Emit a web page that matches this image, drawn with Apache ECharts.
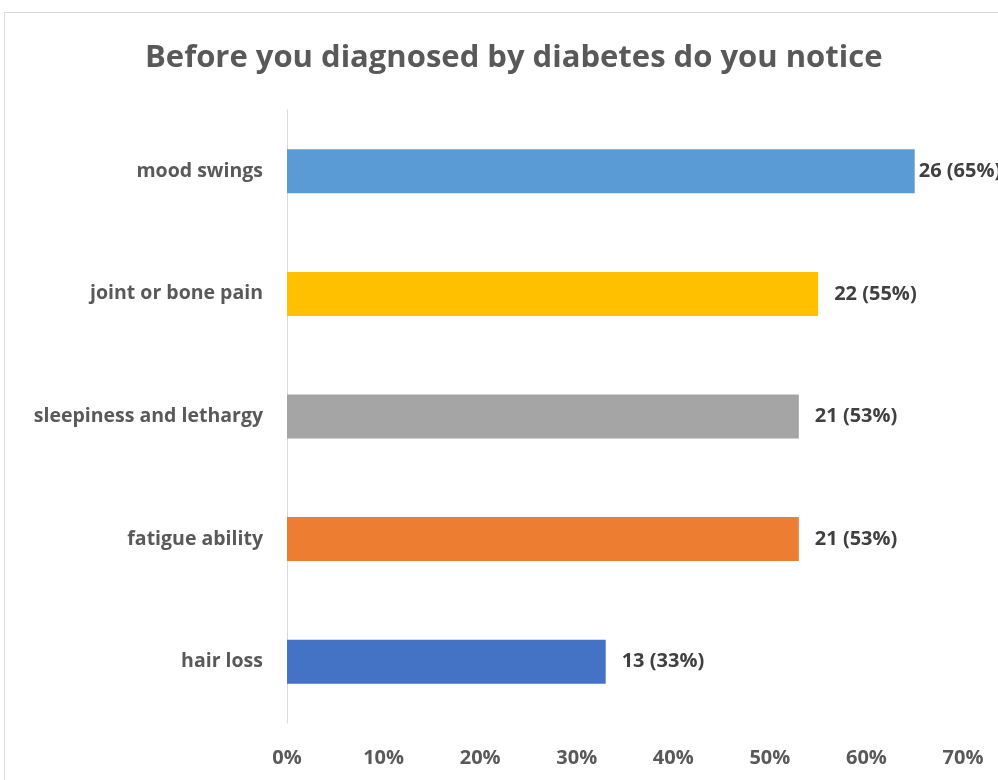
<!DOCTYPE html>
<html>
<head>
<meta charset="utf-8">
<title>Before you diagnosed by diabetes do you notice</title>
<script src="https://cdn.jsdelivr.net/npm/echarts@6/dist/echarts.min.js"></script>
<style>
  html, body { margin: 0; padding: 0; background: #ffffff; }
  #chart { width: 998px; height: 780px; }
</style>
</head>
<body>
<div id="chart"></div>
<script>
// Symptoms, listed top to bottom
const categories = ['mood swings', 'joint or bone pain', 'sleepiness and lethargy', 'fatigue ability', 'hair loss'];
const counts = [26, 22, 21, 21, 13];
const percents = [65, 55, 53, 53, 33];
const barColors = ['#5B9BD5', '#FFC000', '#A5A5A5', '#ED7D31', '#4472C4'];
const xTicks = [0, 10, 20, 30, 40, 50, 60, 70];

const FONT = '"Open Sans", "Noto Sans", sans-serif';

const chart = echarts.init(document.getElementById('chart'), null, { renderer: 'canvas' });

const barData = percents.map((p, i) => ({
  value: p,
  itemStyle: { color: barColors[i] },
  label: { distance: i === 0 ? 4 : 16 }
}));

chart.setOption({
  animation: false,
  backgroundColor: '#ffffff',
  title: {
    text: 'Before you diagnosed by diabetes do you notice',
    left: 140,
    top: 38,
    textStyle: { fontFamily: FONT, fontSize: 31, fontWeight: 'bold', color: '#595959' }
  },
  graphic: [{
    type: 'rect',
    shape: { x: 4.5, y: 12.5, width: 1000, height: 800 },
    style: { fill: 'none', stroke: '#d9d9d9', lineWidth: 1 },
    silent: true
  }],
  grid: { left: 287, right: 35, top: 110, bottom: 57, containLabel: false },
  xAxis: {
    type: 'value',
    min: 0,
    max: xTicks[xTicks.length - 1],
    interval: 10,
    axisLine: { show: false },
    axisTick: { show: false },
    splitLine: { show: false },
    axisLabel: {
      formatter: v => v + '%',
      margin: 25,
      fontFamily: FONT, fontSize: 20, fontWeight: 'bold', color: '#595959'
    }
  },
  yAxis: {
    type: 'category',
    data: categories,
    inverse: true,
    axisLine: { show: true, lineStyle: { color: '#d9d9d9', width: 1 } },
    axisTick: { show: false },
    axisLabel: {
      margin: 24,
      fontFamily: FONT, fontSize: 19.5, fontWeight: 'bold', color: '#595959'
    }
  },
  series: [{
    type: 'bar',
    data: barData,
    barWidth: 44,
    label: {
      show: true,
      position: 'right',
      formatter: p => counts[p.dataIndex] + ' (' + percents[p.dataIndex] + '%)',
      fontFamily: FONT, fontSize: 20, fontWeight: 'bold', color: '#404040'
    }
  }]
});
</script>
</body>
</html>
